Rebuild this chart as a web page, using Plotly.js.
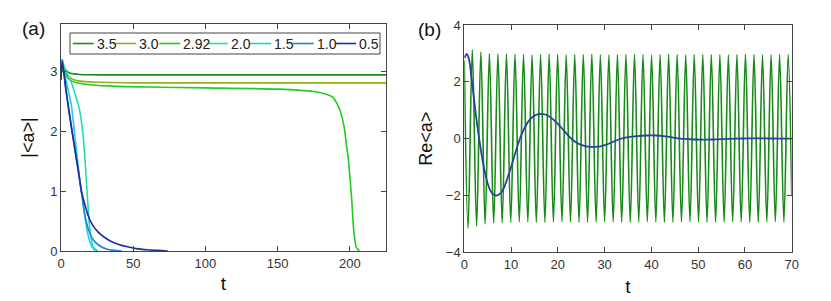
<!DOCTYPE html>
<html>
<head>
<meta charset="utf-8">
<script src="https://cdn.plot.ly/plotly-3.0.1.min.js"></script>
<style>html,body{margin:0;padding:0;background:#fff;}#chart{width:831px;height:301px;}</style>
</head>
<body>
<div id="chart"></div>
<script>
// ---------- Panel (a): |<a>| versus t for several drive strengths ----------
const seriesNames = ["3.5", "3.0", "2.92", "2.0", "1.5", "1.0", "0.5"];
const seriesColors = ["#198c19", "#99b014", "#22cc22", "#22dcb4", "#22ccee", "#2183d6", "#1f2f96"];

const t35 = [0, 0.8, 2, 4, 6, 9, 13, 20, 30, 225];
const v35 = [2.87, 3.2, 3.08, 3.01, 2.98, 2.965, 2.955, 2.95, 2.948, 2.948];

const t30 = [0, 0.8, 2, 4, 6, 10, 15, 22, 35, 50, 225];
const v30 = [2.87, 3.2, 3.05, 2.95, 2.9, 2.86, 2.84, 2.83, 2.82, 2.815, 2.814];

const t292 = [0, 0.8, 2, 4, 6, 10, 15, 22, 35, 60, 100, 150, 175, 183, 188, 191, 193.5, 196, 197.5, 199, 200.3, 201.3, 202.4, 203.5, 204.5, 206.5];
const v292 = [2.87, 3.2, 3.03, 2.92, 2.87, 2.82, 2.8, 2.78, 2.76, 2.745, 2.73, 2.71, 2.67, 2.63, 2.58, 2.47, 2.33, 2.08, 1.8, 1.52, 1.15, 0.85, 0.42, 0.18, 0.06, 0];

const t20 = [0, 0.8, 2, 4.8, 7.5, 10.6, 12.5, 14.1, 15.3, 16.4, 17.3, 18.2, 19, 19.9, 21, 22.2, 23.5, 25.6];
const v20 = [2.87, 3.2, 3.1, 2.95, 2.8, 2.56, 2.4, 2.17, 1.93, 1.61, 1.28, 0.94, 0.65, 0.38, 0.2, 0.07, 0.03, 0];

const t15 = [0, 0.8, 2, 4, 7.1, 9.5, 11.8, 14, 16.4, 18.2, 19.9, 21.5, 23.3, 25];
const v15 = [2.87, 3.2, 3.0, 2.8, 2.45, 1.95, 1.44, 1.0, 0.6, 0.33, 0.16, 0.07, 0.02, 0];

const t10 = [0, 0.8, 3, 5, 7, 9, 11, 13, 14.5, 16.4, 18.5, 21, 24, 27.9, 32, 37, 42];
const v10 = [2.87, 3.2, 2.75, 2.45, 2.12, 1.8, 1.48, 1.18, 0.95, 0.62, 0.4, 0.24, 0.14, 0.07, 0.03, 0.01, 0];

const t05 = [0, 0.8, 3, 4.8, 7, 9.5, 12, 14.1, 16.5, 18.7, 21.5, 25.6, 30, 34.8, 40, 46, 52, 60, 67, 74];
const v05 = [2.87, 3.17, 2.8, 2.45, 2.1, 1.72, 1.35, 1.0, 0.78, 0.6, 0.45, 0.32, 0.23, 0.16, 0.11, 0.07, 0.04, 0.02, 0.01, 0];

const tA = [t35, t30, t292, t20, t15, t10, t05];
const vA = [v35, v30, v292, v20, v15, v10, v05];

// ---------- Panel (b): Re<a> versus t ----------
// green: fast oscillation, read as its troughs and peaks
const greenTroughT = [0.8, 2.63, 4.45, 6.28, 8.1, 9.93, 11.75, 13.58, 15.4, 17.23, 19.05, 20.88, 22.7, 24.53, 26.35, 28.18, 30.0, 31.83, 33.65, 35.48, 37.3, 39.13, 40.95, 42.78, 44.6, 46.43, 48.25, 50.08, 51.9, 53.73, 55.55, 57.38, 59.2, 61.03, 62.85, 64.68, 66.5, 68.33];
const greenTroughV = [-3.16, -3.08, -3.0, -2.97, -2.96, -2.94, -2.93, -2.93, -2.94, -2.94, -2.93, -2.92, -2.93, -2.94, -2.94, -2.93, -2.92, -2.93, -2.94, -2.94, -2.93, -2.92, -2.93, -2.94, -2.94, -2.93, -2.92, -2.93, -2.94, -2.94, -2.93, -2.92, -2.93, -2.94, -2.94, -2.93, -2.92, -2.93];
const greenPeakT = [1.71, 3.54, 5.36, 7.19, 9.01, 10.84, 12.66, 14.49, 16.31, 18.14, 19.96, 21.79, 23.61, 25.44, 27.26, 29.09, 30.91, 32.74, 34.56, 36.39, 38.21, 40.04, 41.86, 43.69, 45.51, 47.34, 49.16, 50.99, 52.81, 54.64, 56.46, 58.29, 60.11, 61.94, 63.76, 65.59, 67.41, 69.24];
const greenPeakV = [3.13, 3.05, 2.99, 2.98, 2.98, 2.97, 2.95, 2.94, 2.96, 2.97, 2.96, 2.94, 2.95, 2.96, 2.97, 2.95, 2.94, 2.95, 2.96, 2.96, 2.95, 2.94, 2.96, 2.97, 2.96, 2.94, 2.95, 2.96, 2.96, 2.95, 2.94, 2.96, 2.97, 2.96, 2.94, 2.95, 2.96, 2.96];
const greenStart = [0, 2.75];
const greenEnd = [70, -2.0];

// blue: damped oscillation
const blueT = [0, 0.5, 1, 1.5, 2, 2.5, 3, 3.5, 4, 4.5, 5, 5.5, 6, 6.5, 7, 7.5, 8, 8.5, 9, 10, 11, 12, 13, 14, 15, 16, 17, 18, 19, 20, 21, 22, 23, 24, 25, 26, 27, 28, 29, 30, 31, 32, 33, 35, 37, 39, 41, 43, 45, 47, 49, 51, 53, 55, 58, 61, 64, 67, 70];
const blueV = [2.83, 2.98, 2.8, 2.2, 1.5, 0.8, 0.2, -0.35, -0.85, -1.25, -1.58, -1.8, -1.93, -1.99, -2.0, -1.96, -1.87, -1.72, -1.5, -1.0, -0.45, 0.05, 0.42, 0.67, 0.81, 0.86, 0.86, 0.8, 0.68, 0.52, 0.34, 0.15, -0.02, -0.14, -0.22, -0.27, -0.29, -0.29, -0.27, -0.23, -0.17, -0.1, -0.03, 0.05, 0.09, 0.11, 0.11, 0.08, 0.03, -0.01, -0.03, -0.035, -0.03, -0.02, 0.0, 0.01, 0.01, 0.0, 0.0];

const ticksAx = [0, 50, 100, 150, 200];
const ticksAy = [0, 1, 2, 3];
const ticksBx = [0, 10, 20, 30, 40, 50, 60, 70];
const ticksBy = [-4, -2, 0, 2, 4];

// ---------- build traces ----------
const traces = [];
for (let i = 0; i < seriesNames.length; i++) {
  traces.push({
    x: tA[i], y: vA[i], name: seriesNames[i], type: 'scatter', mode: 'lines',
    line: {color: seriesColors[i], width: 1.6, shape: 'spline', smoothing: 0.6},
    xaxis: 'x', yaxis: 'y', showlegend: false, hoverinfo: 'skip'
  });
}
// merge green extrema in time order
const gPts = [greenStart];
for (let k = 0; k < greenTroughT.length; k++) gPts.push([greenTroughT[k], greenTroughV[k]]);
for (let k = 0; k < greenPeakT.length; k++) gPts.push([greenPeakT[k], greenPeakV[k]]);
gPts.push(greenEnd);
gPts.sort((a, b) => a[0] - b[0]);
traces.push({
  x: gPts.map(p => p[0]), y: gPts.map(p => p[1]), type: 'scatter', mode: 'lines',
  name: 'Re<a> (3.5)',
  line: {color: '#178a17', width: 1.6, shape: 'spline', smoothing: 1},
  xaxis: 'x2', yaxis: 'y2', showlegend: false, hoverinfo: 'skip'
});
traces.push({
  x: blueT, y: blueV, type: 'scatter', mode: 'lines', name: 'Re<a> (0.5)',
  line: {color: '#2b3f9e', width: 1.8, shape: 'spline', smoothing: 0.6},
  xaxis: 'x2', yaxis: 'y2', showlegend: false, hoverinfo: 'skip'
});

// ---------- layout ----------
const W = 831, H = 301;
const px = x => x / W;
const py = y => 1 - y / H;
const font = 'Liberation Sans, Arial, sans-serif';
const axisCommon = {
  showline: true, linecolor: '#444', linewidth: 1, mirror: 'ticks',
  ticks: 'inside', ticklen: 5, tickwidth: 1, tickcolor: '#444',
  showgrid: false, zeroline: false, automargin: false,
  tickfont: {family: font, size: 13, color: '#333'}
};

const shapes = [];
const annotations = [];
// legend box inside panel (a)
shapes.push({type: 'rect', xref: 'paper', yref: 'paper', x0: px(70), x1: px(380), y0: py(54), y1: py(33),
  line: {color: '#444', width: 1}, fillcolor: 'rgba(255,255,255,0)'});
const legendLineX = [72.7, 115, 159.3, 206.7, 250, 292.7, 335];
const legendLineLen = 21;
const legendY = 43.5;
for (let i = 0; i < seriesNames.length; i++) {
  const x0 = legendLineX[i];
  shapes.push({type: 'line', xref: 'paper', yref: 'paper', x0: px(x0), x1: px(x0 + legendLineLen), y0: py(legendY), y1: py(legendY),
    line: {color: seriesColors[i], width: 1.6}});
  annotations.push({xref: 'paper', yref: 'paper', x: px(x0 + legendLineLen + 1), y: py(legendY), xanchor: 'left', yanchor: 'middle',
    text: seriesNames[i], showarrow: false, font: {family: font, size: 14, color: '#222'}});
}
annotations.push({xref: 'paper', yref: 'paper', x: px(33), y: py(29), text: '(a)', showarrow: false,
  xanchor: 'center', yanchor: 'middle', font: {family: font, size: 19, color: '#111'}});
annotations.push({xref: 'paper', yref: 'paper', x: px(429), y: py(30), text: '(b)', showarrow: false,
  xanchor: 'center', yanchor: 'middle', font: {family: font, size: 19, color: '#111'}});

const layout = {
  width: W, height: H,
  margin: {l: 0, r: 0, t: 0, b: 0},
  paper_bgcolor: '#fff', plot_bgcolor: '#fff',
  showlegend: false,
  font: {family: font},
  xaxis: Object.assign({}, axisCommon, {domain: [px(61), px(386)], range: [0, 225], tickvals: ticksAx,
    title: {text: 't', font: {family: font, size: 19, color: '#111'}, standoff: 7}, anchor: 'y'}),
  yaxis: Object.assign({}, axisCommon, {domain: [py(251), py(24)], range: [0, 3.8], tickvals: ticksAy,
    title: {text: '|&lt;a&gt;|', font: {family: font, size: 18, color: '#111'}, standoff: 10}, anchor: 'x'}),
  xaxis2: Object.assign({}, axisCommon, {domain: [px(464.3), px(791.7)], range: [0, 70], tickvals: ticksBx,
    title: {text: 't', font: {family: font, size: 19, color: '#111'}, standoff: 8}, anchor: 'y2'}),
  yaxis2: Object.assign({}, axisCommon, {domain: [py(252.3), py(25)], range: [-4, 4], tickvals: ticksBy,
    title: {text: 'Re&lt;a&gt;', font: {family: font, size: 18, color: '#111'}, standoff: 8}, anchor: 'x2'}),
  shapes: shapes,
  annotations: annotations
};

Plotly.newPlot('chart', traces, layout, {staticPlot: true, displayModeBar: false});
</script>
</body>
</html>
